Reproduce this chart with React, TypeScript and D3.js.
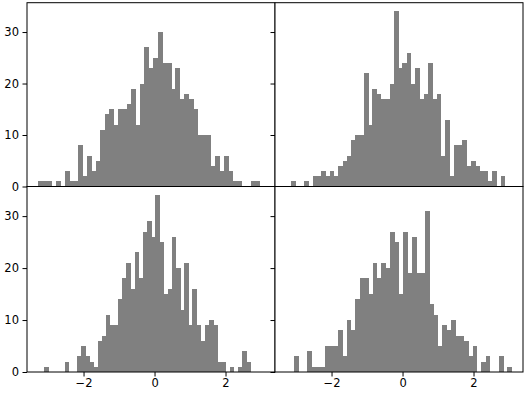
import React, { useEffect, useRef } from 'react'
import { select, scaleLinear, axisLeft, axisBottom, format, min, max } from 'd3'

// histogram counts (50 bins each)
const topLeft = [1,1,1,0,1,0,3,1,1,8,2,6,3,5,11,14,15,12,15,15,16,19,12,20,27,23,25,30,24,24,19,23,17,18,17,15,10,10,10,4,6,3,6,3,1,1,0,0,1,1]
const topRight = [1,0,0,1,0,2,2,3,2,3,2,4,5,6,9,10,10,22,12,19,18,17,17,20,34,23,24,26,20,23,17,18,24,17,18,6,13,2,8,8,9,4,5,4,3,3,1,3,0,2]
const bottomLeft = [1,0,0,0,0,2,0,0,3,5,3,2,1,6,7,11,9,9,14,18,21,16,23,18,27,29,26,34,25,15,16,26,20,12,21,9,16,9,6,9,10,9,2,2,0,1,0,1,4,2]
const bottomRight = [3,0,0,4,1,1,1,5,5,5,8,3,10,8,14,18,18,15,21,18,21,20,27,25,15,27,19,26,19,19,31,13,11,5,9,8,10,7,7,6,3,5,0,2,3,0,0,3,0,1]

// data min / max of each sample (bin range)
const binRanges = [[-3.275, 2.958], [-3.135, 2.885], [-3.116, 2.697], [-3.046, 3.076]]

const xTicks = [-2, 0, 2]
const yTicks = [0, 10, 20, 30]

export default function App() {
  const svgRef = useRef(null)

  const width = 528,
        height = 397
  const colX = [27, 275, 523]
  const rowY = [2.7, 186.5, 372]

  useEffect(() => {
    const svg = select(svgRef.current)
    svg.selectAll('*').remove()

    const lo = min(binRanges, d => d[0])
    const hi = max(binRanges, d => d[1])
    const pad = (hi - lo) * 0.05
    const yMax = max([topLeft, topRight, bottomLeft, bottomRight], s => max(s)) * 1.05

    const panels = [
      { counts: topLeft, range: binRanges[0], col: 0, row: 0 },
      { counts: topRight, range: binRanges[1], col: 1, row: 0 },
      { counts: bottomLeft, range: binRanges[2], col: 0, row: 1 },
      { counts: bottomRight, range: binRanges[3], col: 1, row: 1 },
    ]

    const fmt = format('d')

    panels.forEach((p, i) => {
      const x0 = colX[p.col], x1 = colX[p.col + 1]
      const y0 = rowY[p.row], y1 = rowY[p.row + 1]

      const xScale = scaleLinear().domain([lo - pad, hi + pad]).range([x0, x1])
      const yScale = scaleLinear().domain([0, yMax]).range([y1, y0])

      const g = svg.append('g')

      // axes background
      g.append('rect')
        .attr('x', x0).attr('y', y0)
        .attr('width', x1 - x0).attr('height', y1 - y0)
        .attr('fill', 'white')

      const clipId = 'clip' + i
      g.append('clipPath').attr('id', clipId)
        .append('rect')
        .attr('x', x0).attr('y', y0)
        .attr('width', x1 - x0).attr('height', y1 - y0)

      const n = p.counts.length
      const step = (p.range[1] - p.range[0]) / n

      g.append('g')
        .attr('clip-path', `url(#${clipId})`)
        .attr('shape-rendering', 'crispEdges')
        .selectAll('rect')
        .data(p.counts)
        .join('rect')
        .attr('x', (d, k) => xScale(p.range[0] + k * step))
        .attr('width', (d, k) => xScale(p.range[0] + (k + 1) * step) - xScale(p.range[0] + k * step) + 0.5)
        .attr('y', d => yScale(d))
        .attr('height', d => yScale(0) - yScale(d))
        .attr('fill', '#808080')

      // spines
      g.append('rect')
        .attr('x', x0).attr('y', y0)
        .attr('width', x1 - x0).attr('height', y1 - y0)
        .attr('fill', 'none')
        .attr('stroke', 'black')
        .attr('stroke-width', 1)

      const yAxis = axisLeft(yScale)
        .tickValues(yTicks)
        .tickSize(4.5)
        .tickPadding(3.5)
        .tickFormat(p.col === 0 ? fmt : () => '')

      const xAxis = axisBottom(xScale)
        .tickValues(xTicks)
        .tickSize(4.5)
        .tickPadding(2.5)
        .tickFormat(p.row === 1 ? fmt : () => '')

      for (const [ax, tr] of [[yAxis, `translate(${x0},0)`], [xAxis, `translate(0,${y1})`]]) {
        const a = g.append('g')
          .attr('transform', tr)
          .call(ax)
        a.select('.domain').remove()
        a.selectAll('line').attr('stroke', 'black').attr('stroke-width', 1)
        a.selectAll('text')
          .attr('fill', 'black')
          .style('font-family', '"DejaVu Sans", sans-serif')
          .style('font-size', '11.5px')
      }
    })
  }, [])

  return (
    <div className='wrapper' style={{ position: 'absolute', left: 0, top: 0 }}>
      <svg ref={svgRef} width={width} height={height} style={{ display: 'block' }}></svg>
    </div>
  )
}
